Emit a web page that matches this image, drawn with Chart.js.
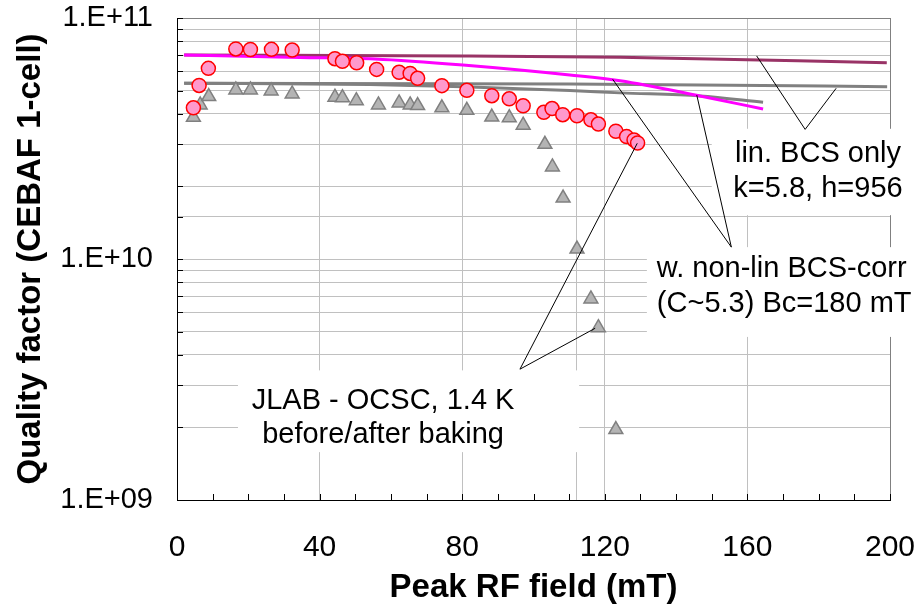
<!DOCTYPE html>
<html>
<head>
<meta charset="utf-8">
<script src="https://cdn.jsdelivr.net/npm/chart.js@4"></script>
<style>
  html, body { margin: 0; padding: 0; background: #fff; }
  canvas { display: block; }
</style>
</head>
<body>
<canvas id="chart" width="918" height="608"></canvas>
<script>
// JLAB OCSC 1-cell, 1.4 K: Q0 vs peak RF field, before/after baking + BCS fits.

// measured, after baking (circles)
const afterField = [4.6, 6.2, 8.8, 16.5, 20.6, 26.5, 32.3, 44.3, 46.4, 50.4, 56.0, 62.3, 65.4, 67.5, 74.3,
  81.3, 88.3, 93.2, 97.1, 102.9, 105.2, 108.2, 112.2, 116.1, 118.2, 123.1, 126.1, 128.2, 129.2];
const afterQ = [4.24e10, 5.25e10, 6.18e10, 7.44e10, 7.40e10, 7.41e10, 7.36e10, 6.78e10, 6.61e10, 6.52e10,
  6.12e10, 5.95e10, 5.89e10, 5.62e10, 5.24e10, 5.01e10, 4.76e10, 4.62e10, 4.32e10, 4.06e10, 4.21e10,
  3.97e10, 3.93e10, 3.78e10, 3.63e10, 3.39e10, 3.22e10, 3.12e10, 3.03e10];

// measured, before baking (triangles)
const beforeField = [4.6, 6.5, 8.9, 16.5, 20.6, 26.4, 32.3, 44.3, 46.4, 50.3, 56.5, 62.3, 65.4, 67.5, 74.3,
  81.3, 88.3, 93.2, 97.1, 103.2, 105.3, 108.3, 112.2, 116.1, 118.2, 123.1];
const beforeQ = [3.87e10, 4.36e10, 4.72e10, 5.03e10, 5.03e10, 4.98e10, 4.84e10, 4.69e10, 4.67e10, 4.54e10,
  4.36e10, 4.44e10, 4.36e10, 4.33e10, 4.24e10, 4.14e10, 3.88e10, 3.86e10, 3.59e10, 2.99e10, 2.41e10,
  1.79e10, 1.10e10, 6.83e9, 5.19e9, 1.96e9];

// fit curves
const linAfterField = [2.0, 80.2, 124.3, 199.1];
const linAfterQ = [7.02e10, 6.96e10, 6.87e10, 6.52e10];
const nonlinAfterField = [2.0, 34.5, 55.5, 80.2, 110.2, 124.3, 146.7, 164.4];
const nonlinAfterQ = [7.02e10, 6.86e10, 6.76e10, 6.38e10, 5.80e10, 5.49e10, 4.75e10, 4.19e10];
const linBeforeField = [2.0, 110.2, 146.7, 199.2];
const linBeforeQ = [5.36e10, 5.32e10, 5.27e10, 5.19e10];
const nonlinBeforeField = [2.0, 54.1, 80.2, 110.2, 124.3, 146.7, 164.4];
const nonlinBeforeQ = [5.36e10, 5.30e10, 5.19e10, 5.00e10, 4.89e10, 4.75e10, 4.47e10];

// axis ticks
const xMinorTicks = [0, 10, 20, 30, 40, 50, 60, 70, 80, 90, 100, 110, 120, 130, 140, 150, 160, 170, 180, 190, 200];
const xLabels = [0, 40, 80, 120, 160, 200];
const xExtraGrid = [112];

// callouts (data coords): box corners, leader apex and targets, text lines
const callouts = [
  { box: [150, 208, 3.47e10, 1.52e10], apex: [176.2, 3.45e10],
    targets: [[162.6, 6.96e10], [184.9, 5.11e10]],
    lines: ['lin. BCS only', 'k=5.8, h=956'], textX: 179.8, textY: [2.53e10, 1.81e10], align: 'center' },
  { box: [131.8, 208, 1.12e10, 4.75e9], apex: [155.5, 1.12e10],
    targets: [[122.2, 5.57e10], [145.8, 4.79e10]],
    lines: ['w. non-lin BCS-corr', '(C~5.3) Bc=180 mT'], textX: 134.6, textY: [8.45e9, 6.05e9], align: 'left' },
  { box: [17.1, 112.8, 3.45e9, 1.58e9], apex: [96.2, 3.49e9],
    targets: [[129.1, 3.02e10], [117.3, 5.16e9]],
    lines: ['JLAB - OCSC, 1.4 K', 'before/after baking'], textX: 57.8, textY: [2.39e9, 1.72e9], align: 'center' },
];

const FONT = "'Liberation Sans', Arial, sans-serif";
Chart.defaults.font.family = FONT;
Chart.defaults.color = '#000';

const pts = (xs, ys) => xs.map((x, i) => ({ x, y: ys[i] }));
const fitLine = (xs, ys, color, order) => ({
  data: pts(xs, ys), showLine: true, pointRadius: 0, borderColor: color,
  borderWidth: 3, cubicInterpolationMode: 'monotone', fill: false, order,
});

const decorations = {
  id: 'decorations',
  beforeDatasetsDraw(chart) {
    const { ctx, chartArea: a, scales: { x, y } } = chart;
    ctx.save();
    ctx.strokeStyle = '#000';
    ctx.lineWidth = 1;
    ctx.beginPath();
    xMinorTicks.forEach(v => {
      const px = Math.round(x.getPixelForValue(v)) + 0.5;
      ctx.moveTo(px, a.bottom);
      ctx.lineTo(px, a.bottom - 6);
    });
    y.ticks.forEach(t => {
      const py = Math.round(y.getPixelForValue(t.value)) + 0.5;
      ctx.moveTo(a.left, py);
      ctx.lineTo(a.left + 6, py);
    });
    ctx.stroke();
    ctx.restore();
  },
  afterDatasetsDraw(chart) {
    const { ctx, scales: { x, y } } = chart;
    ctx.save();
    callouts.forEach(c => {
      const x0 = x.getPixelForValue(c.box[0]), x1 = x.getPixelForValue(c.box[1]);
      const y0 = y.getPixelForValue(c.box[2]), y1 = y.getPixelForValue(c.box[3]);
      ctx.fillStyle = '#fff';
      ctx.fillRect(x0, y0, x1 - x0, y1 - y0);
    });
    callouts.forEach(c => {
      const ax = x.getPixelForValue(c.apex[0]), ay = y.getPixelForValue(c.apex[1]);
      ctx.strokeStyle = '#000';
      ctx.lineWidth = 1;
      ctx.beginPath();
      c.targets.forEach(t => {
        ctx.moveTo(ax, ay);
        ctx.lineTo(x.getPixelForValue(t[0]), y.getPixelForValue(t[1]));
      });
      ctx.stroke();
      ctx.fillStyle = '#000';
      ctx.font = '29px ' + FONT;
      ctx.textAlign = c.align;
      ctx.textBaseline = 'alphabetic';
      c.lines.forEach((s, i) => {
        ctx.fillText(s, x.getPixelForValue(c.textX), y.getPixelForValue(c.textY[i]));
      });
    });
    ctx.restore();
  },
};

new Chart(document.getElementById('chart'), {
  type: 'scatter',
  data: {
    datasets: [
      { data: pts(afterField, afterQ), pointStyle: 'circle', pointRadius: 7, pointHoverRadius: 7,
        backgroundColor: '#FF99CC', borderColor: '#FF0000', borderWidth: 1.5, order: 0 },
      { data: pts(beforeField, beforeQ), pointStyle: 'triangle', pointRadius: 8, pointHoverRadius: 8,
        backgroundColor: '#B4B4B4', borderColor: '#808080', borderWidth: 1.5, order: 1 },
      fitLine(nonlinAfterField, nonlinAfterQ, '#FF00FF', 2),
      fitLine(linAfterField, linAfterQ, '#993366', 3),
      fitLine(nonlinBeforeField, nonlinBeforeQ, '#808080', 4),
      fitLine(linBeforeField, linBeforeQ, '#808080', 5),
    ],
  },
  options: {
    responsive: false,
    animation: false,
    layout: { padding: { top: 18, right: 28, bottom: 0, left: 0 } },
    plugins: { legend: { display: false }, tooltip: { enabled: false } },
    scales: {
      x: {
        type: 'linear', min: 0, max: 200,
        afterBuildTicks: (s) => {
          s.ticks = xMinorTicks.concat(xExtraGrid).sort((a, b) => a - b).map(v => ({ value: v }));
        },
        afterFit: (s) => { s.height = 108; s.paddingLeft = 0; s.paddingRight = 0; },
        grid: {
          drawTicks: false, lineWidth: 1,
          color: (c) => {
            const v = c.tick.value;
            if (v === 200) return '#808080';
            if ((v > 0 && v % 40 === 0) || xExtraGrid.includes(v)) return '#C0C0C0';
            return 'rgba(0,0,0,0)';
          },
        },
        border: { color: '#000', width: 1 },
        ticks: {
          autoSkip: false, maxRotation: 0, padding: 30, color: '#000', font: { size: 30 },
          callback: (v) => xLabels.includes(v) ? String(v) : '',
        },
        title: {
          display: true, text: 'Peak RF field (mT)', color: '#000',
          font: { size: 33, weight: 'bold' }, padding: { top: 0, bottom: 0 },
        },
      },
      y: {
        type: 'logarithmic', min: 1e9, max: 1e11,
        afterFit: (s) => { s.width = 177; s.paddingTop = 0; s.paddingBottom = 0; },
        grid: {
          drawTicks: false, lineWidth: 1,
          color: (c) => c.tick.value >= 0.999e11 ? '#808080' : '#C0C0C0',
        },
        border: { color: '#000', width: 1 },
        ticks: {
          autoSkip: false, padding: 24, color: '#000', font: { size: 29 },
          callback: (v) => {
            const e = Math.log10(v);
            return Math.abs(e - Math.round(e)) < 1e-6 ? '1.E+' + String(Math.round(e)).padStart(2, '0') : '';
          },
        },
        title: {
          display: true, text: 'Quality factor (CEBAF 1-cell)', color: '#000',
          font: { size: 33, weight: 'bold' }, padding: { top: 11, bottom: 0 },
        },
      },
    },
  },
  plugins: [decorations],
});
</script>
</body>
</html>
